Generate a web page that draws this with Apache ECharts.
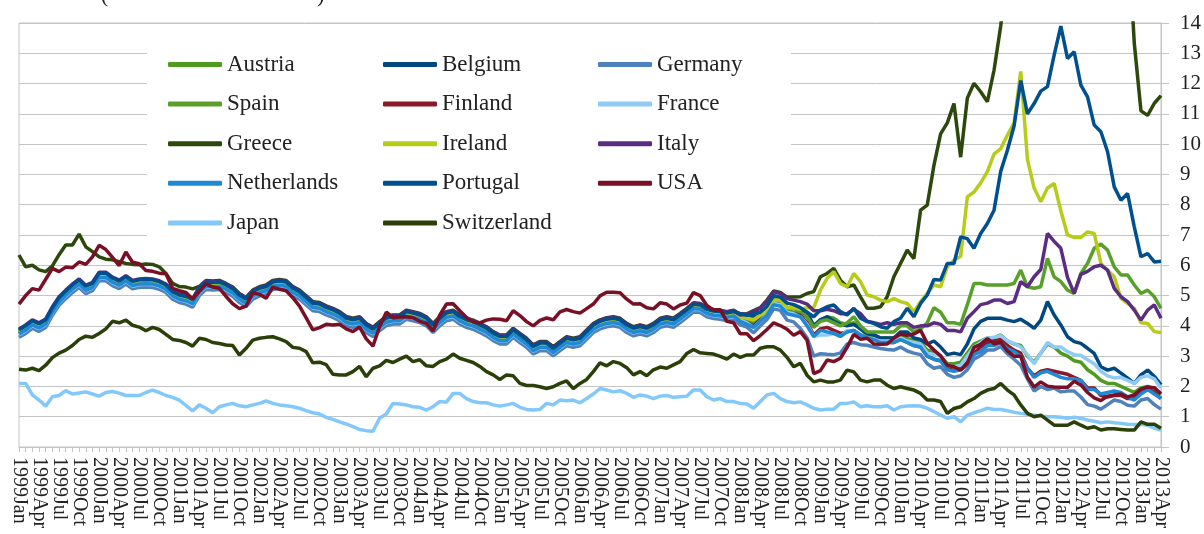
<!DOCTYPE html>
<html><head><meta charset="utf-8">
<script src="https://cdn.jsdelivr.net/npm/echarts@6/dist/echarts.min.js"></script>
<style>html,body{margin:0;padding:0;background:#fff}#c{width:1204px;height:534px}</style>
</head><body><div id="c"></div>
<script>
const years = [1999,2000,2001,2002,2003,2004,2005,2006,2007,2008,2009,2010,2011,2012,2013];
const monthNames = ['Jan','Feb','Mar','Apr','May','Jun','Jul','Aug','Sep','Oct','Nov','Dec'];
const lastYearMonths = 4; // 2013: Jan..Apr
const categories = [];
years.forEach(y => {
  const n = (y === 2013) ? lastYearMonths : 12;
  for (let i = 0; i < n; i++) categories.push(y + monthNames[i]);
});

const austria = [
3.77,3.90,4.07,3.97,4.10,4.50,4.83,5.05,5.25,5.42,5.21,5.31,
5.64,5.64,5.48,5.38,5.53,5.37,5.42,5.43,5.42,5.36,5.25,5.03,
4.92,4.87,4.77,5.15,5.35,5.33,5.35,5.25,5.13,4.92,4.79,5.03,
5.14,5.20,5.35,5.38,5.35,5.15,5.03,4.84,4.65,4.62,4.51,4.43,
4.32,4.16,4.10,4.15,3.93,3.80,3.99,4.16,4.21,4.21,4.37,4.32,
4.26,4.15,3.93,4.15,4.32,4.37,4.21,4.10,4.04,3.93,3.82,3.66,
3.55,3.55,3.77,3.60,3.44,3.22,3.33,3.33,3.16,3.33,3.49,3.44,
3.49,3.71,3.93,4.05,4.12,4.15,4.10,3.93,3.82,3.88,3.82,3.93,
4.10,4.15,4.10,4.26,4.43,4.61,4.59,4.45,4.39,4.37,4.32,4.37,
4.25,4.15,4.05,4.25,4.45,4.75,4.72,4.50,4.45,4.45,4.30,4.00,
4.20,4.30,4.25,4.10,4.05,4.10,3.90,3.70,3.70,3.60,3.60,3.60,
3.70,3.60,3.50,3.45,3.20,3.15,3.00,2.75,2.75,2.80,3.10,3.40,
3.50,3.60,3.60,3.70,3.50,3.40,3.35,3.00,2.80,3.10,3.40,3.30,
3.10,3.00,2.85,2.80,2.55,2.40,2.20,2.10,2.10,2.00,1.90,1.80,
1.95,2.00,1.90,1.75];

const belgium = [
3.84,3.97,4.14,4.04,4.17,4.57,4.90,5.12,5.32,5.49,5.28,5.38,
5.71,5.71,5.55,5.45,5.60,5.44,5.49,5.50,5.49,5.43,5.32,5.10,
4.99,4.94,4.84,5.22,5.42,5.40,5.42,5.32,5.20,4.99,4.86,5.10,
5.21,5.27,5.42,5.45,5.42,5.22,5.10,4.91,4.72,4.69,4.58,4.50,
4.39,4.23,4.17,4.22,4.00,3.87,4.06,4.23,4.28,4.28,4.44,4.39,
4.33,4.22,4.00,4.22,4.39,4.44,4.28,4.17,4.11,4.00,3.89,3.73,
3.62,3.62,3.84,3.67,3.51,3.29,3.40,3.40,3.23,3.40,3.56,3.51,
3.56,3.78,4.00,4.12,4.19,4.22,4.17,4.00,3.89,3.95,3.89,4.00,
4.17,4.22,4.17,4.33,4.50,4.68,4.66,4.52,4.46,4.44,4.39,4.44,
4.40,4.35,4.30,4.40,4.55,4.90,4.85,4.60,4.60,4.55,4.45,4.00,
4.20,4.30,4.15,4.05,4.00,4.05,3.90,3.75,3.70,3.60,3.60,3.60,
3.80,3.80,3.60,3.55,3.40,3.50,3.30,3.05,3.10,3.05,3.40,3.90,
4.15,4.25,4.25,4.25,4.19,4.14,4.22,4.08,3.92,4.19,4.80,4.36,
4.03,3.64,3.48,3.42,3.26,3.09,2.65,2.54,2.60,2.44,2.27,2.10,
2.38,2.54,2.33,2.05];

const germany = [
3.62,3.75,3.92,3.82,3.95,4.35,4.68,4.90,5.10,5.27,5.06,5.16,
5.49,5.49,5.33,5.23,5.38,5.22,5.27,5.28,5.27,5.21,5.10,4.88,
4.77,4.72,4.62,5.00,5.20,5.18,5.20,5.10,4.98,4.77,4.64,4.88,
4.99,5.05,5.20,5.23,5.20,5.00,4.88,4.69,4.50,4.47,4.36,4.28,
4.17,4.01,3.95,4.00,3.78,3.65,3.84,4.01,4.06,4.06,4.22,4.17,
4.11,4.00,3.78,4.00,4.17,4.22,4.06,3.95,3.89,3.78,3.67,3.51,
3.40,3.40,3.62,3.45,3.29,3.07,3.18,3.18,3.01,3.18,3.34,3.29,
3.34,3.56,3.78,3.90,3.97,4.00,3.95,3.78,3.67,3.73,3.67,3.78,
3.95,4.00,3.95,4.11,4.28,4.46,4.44,4.30,4.24,4.22,4.17,4.22,
4.03,3.96,3.77,4.00,4.21,4.56,4.51,4.19,4.13,3.91,3.61,3.00,
3.08,3.06,3.05,3.10,3.40,3.45,3.38,3.36,3.30,3.25,3.22,3.20,
3.30,3.17,3.10,3.05,2.75,2.60,2.65,2.40,2.30,2.35,2.55,2.90,
3.02,3.20,3.20,3.32,3.08,2.90,2.70,2.25,1.85,2.00,1.90,1.95,
1.82,1.85,1.85,1.65,1.40,1.35,1.25,1.40,1.55,1.50,1.38,1.35,
1.55,1.60,1.40,1.25];

const spain = [
3.80,3.93,4.10,4.00,4.13,4.53,4.86,5.08,5.28,5.45,5.24,5.34,
5.67,5.67,5.51,5.41,5.56,5.40,5.45,5.46,5.45,5.39,5.28,5.06,
4.95,4.90,4.80,5.18,5.38,5.36,5.38,5.28,5.16,4.95,4.82,5.06,
5.17,5.23,5.38,5.41,5.38,5.18,5.06,4.87,4.68,4.65,4.54,4.46,
4.35,4.19,4.13,4.18,3.96,3.83,4.02,4.19,4.24,4.24,4.40,4.35,
4.29,4.18,3.96,4.18,4.35,4.40,4.24,4.13,4.07,3.96,3.85,3.69,
3.58,3.58,3.80,3.63,3.47,3.25,3.36,3.36,3.19,3.36,3.52,3.47,
3.52,3.74,3.96,4.08,4.15,4.18,4.13,3.96,3.85,3.91,3.85,3.96,
4.13,4.18,4.13,4.29,4.46,4.64,4.62,4.48,4.42,4.40,4.35,4.40,
4.30,4.25,4.15,4.30,4.45,4.85,4.80,4.60,4.60,4.45,4.30,3.95,
4.15,4.20,4.10,4.00,4.10,4.30,4.00,3.80,3.80,3.80,3.80,3.80,
4.00,4.00,3.80,3.90,4.10,4.60,4.45,4.10,4.10,4.05,4.70,5.40,
5.40,5.35,5.35,5.35,5.35,5.40,5.84,5.29,5.24,5.29,6.23,5.62,
5.46,5.18,5.07,5.73,6.06,6.56,6.70,6.50,5.95,5.68,5.68,5.35,
5.07,5.18,4.96,4.58];

const finland = [
3.75,3.88,4.05,3.95,4.08,4.48,4.81,5.03,5.23,5.40,5.19,5.29,
5.62,5.62,5.46,5.36,5.51,5.35,5.40,5.41,5.40,5.34,5.23,5.01,
4.90,4.85,4.75,5.13,5.33,5.31,5.33,5.23,5.11,4.90,4.77,5.01,
5.12,5.18,5.33,5.36,5.33,5.13,5.01,4.82,4.63,4.60,4.49,4.41,
4.30,4.14,4.08,4.13,3.91,3.78,3.97,4.14,4.19,4.19,4.35,4.30,
4.24,4.13,3.91,4.13,4.30,4.35,4.19,4.08,4.02,3.91,3.80,3.64,
3.53,3.53,3.75,3.58,3.42,3.20,3.31,3.31,3.14,3.31,3.47,3.42,
3.47,3.69,3.91,4.03,4.10,4.13,4.08,3.91,3.80,3.86,3.80,3.91,
4.08,4.13,4.08,4.24,4.41,4.59,4.57,4.43,4.37,4.35,4.30,4.35,
4.20,4.10,4.00,4.20,4.40,4.75,4.70,4.45,4.40,4.35,4.10,3.70,
3.90,3.95,3.85,3.75,3.80,3.85,3.70,3.60,3.55,3.50,3.45,3.45,
3.55,3.45,3.35,3.30,3.00,2.90,2.85,2.60,2.55,2.60,2.80,3.10,
3.30,3.45,3.50,3.55,3.35,3.20,3.10,2.60,2.35,2.50,2.55,2.50,
2.45,2.40,2.30,2.20,1.95,1.95,1.70,1.65,1.70,1.70,1.60,1.60,
1.80,1.90,1.80,1.60];

const france = [
3.71,3.84,4.01,3.91,4.04,4.44,4.77,4.99,5.19,5.36,5.15,5.25,
5.58,5.58,5.42,5.32,5.47,5.31,5.36,5.37,5.36,5.30,5.19,4.97,
4.86,4.81,4.71,5.09,5.29,5.27,5.29,5.19,5.07,4.86,4.73,4.97,
5.08,5.14,5.29,5.32,5.29,5.09,4.97,4.78,4.59,4.56,4.45,4.37,
4.26,4.10,4.04,4.09,3.87,3.74,3.93,4.10,4.15,4.15,4.31,4.26,
4.20,4.09,3.87,4.09,4.26,4.31,4.15,4.04,3.98,3.87,3.76,3.60,
3.49,3.49,3.71,3.54,3.38,3.16,3.27,3.27,3.10,3.27,3.43,3.38,
3.43,3.65,3.87,3.99,4.06,4.09,4.04,3.87,3.76,3.82,3.76,3.87,
4.04,4.09,4.04,4.20,4.37,4.55,4.53,4.39,4.33,4.31,4.26,4.31,
4.20,4.10,3.95,4.15,4.40,4.75,4.70,4.45,4.40,4.30,4.05,3.65,
3.70,3.70,3.75,3.65,3.85,3.85,3.70,3.60,3.55,3.50,3.50,3.50,
3.60,3.50,3.45,3.40,3.10,3.05,3.00,2.70,2.65,2.70,3.00,3.30,
3.45,3.60,3.62,3.68,3.50,3.42,3.30,3.05,2.75,3.10,3.45,3.30,
3.30,3.15,3.05,3.02,2.88,2.75,2.50,2.35,2.28,2.30,2.20,2.10,
2.30,2.35,2.25,1.95];

const greece = [
6.34,5.95,6.00,5.85,5.79,5.98,6.35,6.67,6.67,7.03,6.61,6.45,
6.28,6.20,6.18,6.12,6.06,6.03,6.02,6.04,6.03,5.95,5.73,5.40,
5.30,5.28,5.22,5.30,5.50,5.48,5.50,5.40,5.28,5.07,4.94,5.18,
5.29,5.35,5.50,5.53,5.50,5.30,5.18,4.99,4.80,4.77,4.66,4.58,
4.47,4.31,4.25,4.30,4.08,3.95,4.14,4.31,4.36,4.36,4.52,4.47,
4.41,4.30,4.08,4.30,4.47,4.52,4.36,4.25,4.19,4.08,3.97,3.81,
3.70,3.70,3.92,3.75,3.59,3.37,3.48,3.48,3.31,3.48,3.64,3.59,
3.64,3.86,4.08,4.20,4.27,4.30,4.25,4.08,3.97,4.03,3.97,4.08,
4.25,4.30,4.25,4.41,4.58,4.76,4.74,4.60,4.54,4.52,4.47,4.52,
4.38,4.40,4.50,4.60,4.85,5.15,5.10,4.95,4.95,4.96,5.07,5.13,
5.62,5.73,5.90,5.51,5.29,5.35,4.96,4.58,4.58,4.63,4.96,5.62,
6.06,6.50,6.22,7.82,7.99,9.30,10.34,10.70,11.34,9.57,11.52,12.01,
11.73,11.40,12.44,13.90,15.94,16.69,16.15,15.90,17.78,18.04,17.92,21.14,
25.91,29.24,19.07,21.48,26.90,27.82,25.82,24.34,20.91,17.96,17.20,13.33,
11.10,10.95,11.35,11.60];

const ireland = [
3.78,3.91,4.08,3.98,4.11,4.51,4.84,5.06,5.26,5.43,5.22,5.32,
5.65,5.65,5.49,5.39,5.54,5.38,5.43,5.44,5.43,5.37,5.26,5.04,
4.93,4.88,4.78,5.16,5.36,5.34,5.36,5.26,5.14,4.93,4.80,5.04,
5.15,5.21,5.36,5.39,5.36,5.16,5.04,4.85,4.66,4.63,4.52,4.44,
4.33,4.17,4.11,4.16,3.94,3.81,4.00,4.17,4.22,4.22,4.38,4.33,
4.27,4.16,3.94,4.16,4.33,4.38,4.22,4.11,4.05,3.94,3.83,3.67,
3.56,3.56,3.78,3.61,3.45,3.23,3.34,3.34,3.17,3.34,3.50,3.45,
3.50,3.72,3.94,4.06,4.13,4.16,4.11,3.94,3.83,3.89,3.83,3.94,
4.11,4.16,4.11,4.27,4.44,4.62,4.60,4.46,4.40,4.38,4.33,4.38,
4.30,4.25,4.20,4.35,4.50,4.85,4.85,4.60,4.60,4.55,4.60,4.60,
5.18,5.57,5.79,5.40,5.29,5.73,5.46,5.02,4.96,4.85,4.80,4.90,
4.80,4.74,4.47,4.80,5.07,5.35,5.29,5.95,6.17,6.30,8.26,8.42,
8.72,9.09,9.67,9.85,10.30,10.70,12.40,9.50,8.55,8.10,8.55,8.70,
7.80,7.00,6.92,6.92,7.10,7.05,6.06,5.84,5.62,4.91,4.74,4.58,
4.10,4.08,3.81,3.78];

const italy = [
3.90,4.03,4.20,4.10,4.23,4.63,4.96,5.18,5.38,5.55,5.34,5.44,
5.77,5.77,5.61,5.51,5.66,5.50,5.55,5.56,5.55,5.49,5.38,5.16,
5.05,5.00,4.90,5.28,5.48,5.46,5.48,5.38,5.26,5.05,4.92,5.16,
5.27,5.33,5.48,5.51,5.48,5.28,5.16,4.97,4.78,4.75,4.64,4.56,
4.45,4.29,4.23,4.28,4.06,3.93,4.12,4.29,4.34,4.34,4.50,4.45,
4.39,4.28,4.06,4.28,4.45,4.50,4.34,4.23,4.17,4.06,3.95,3.79,
3.68,3.68,3.90,3.73,3.57,3.35,3.46,3.46,3.29,3.46,3.62,3.57,
3.62,3.84,4.06,4.18,4.25,4.28,4.23,4.06,3.95,4.01,3.95,4.06,
4.23,4.28,4.23,4.39,4.56,4.74,4.72,4.58,4.52,4.50,4.45,4.50,
4.36,4.39,4.47,4.58,4.80,5.13,5.07,4.90,4.85,4.80,4.72,4.50,
4.50,4.55,4.50,4.40,4.40,4.55,4.40,4.15,4.10,4.05,4.10,4.05,
4.10,4.10,3.95,4.00,4.00,4.10,4.05,3.85,3.85,3.80,4.25,4.47,
4.70,4.75,4.85,4.85,4.74,4.80,5.46,5.29,5.62,5.86,7.05,6.79,
6.56,5.60,5.07,5.70,5.80,5.95,6.00,5.84,5.24,4.96,4.80,4.52,
4.19,4.52,4.69,4.25];

const netherlands = [
3.73,3.86,4.03,3.93,4.06,4.46,4.79,5.01,5.21,5.38,5.17,5.27,
5.60,5.60,5.44,5.34,5.49,5.33,5.38,5.39,5.38,5.32,5.21,4.99,
4.88,4.83,4.73,5.11,5.31,5.29,5.31,5.21,5.09,4.88,4.75,4.99,
5.10,5.16,5.31,5.34,5.31,5.11,4.99,4.80,4.61,4.58,4.47,4.39,
4.28,4.12,4.06,4.11,3.89,3.76,3.95,4.12,4.17,4.17,4.33,4.28,
4.22,4.11,3.89,4.11,4.28,4.33,4.17,4.06,4.00,3.89,3.78,3.62,
3.51,3.51,3.73,3.56,3.40,3.18,3.29,3.29,3.12,3.29,3.45,3.40,
3.45,3.67,3.89,4.01,4.08,4.11,4.06,3.89,3.78,3.84,3.78,3.89,
4.06,4.11,4.06,4.22,4.39,4.57,4.55,4.41,4.35,4.33,4.28,4.33,
4.15,4.05,3.95,4.15,4.35,4.70,4.65,4.40,4.35,4.30,4.00,3.65,
3.85,3.80,3.75,3.65,3.80,3.85,3.70,3.60,3.55,3.45,3.45,3.45,
3.55,3.45,3.35,3.30,3.00,2.90,2.85,2.55,2.50,2.55,2.70,3.05,
3.15,3.35,3.35,3.45,3.25,3.15,3.00,2.60,2.30,2.45,2.50,2.40,
2.30,2.25,2.25,2.20,1.90,1.90,1.75,1.80,1.85,1.80,1.65,1.55,
1.75,1.90,1.75,1.60];

const portugal = [
3.87,4.00,4.17,4.07,4.20,4.60,4.93,5.15,5.35,5.52,5.31,5.41,
5.74,5.74,5.58,5.48,5.63,5.47,5.52,5.53,5.52,5.46,5.35,5.13,
5.02,4.97,4.87,5.25,5.45,5.43,5.45,5.35,5.23,5.02,4.89,5.13,
5.24,5.30,5.45,5.48,5.45,5.25,5.13,4.94,4.75,4.72,4.61,4.53,
4.42,4.26,4.20,4.25,4.03,3.90,4.09,4.26,4.31,4.31,4.47,4.42,
4.36,4.25,4.03,4.25,4.42,4.47,4.31,4.20,4.14,4.03,3.92,3.76,
3.65,3.65,3.87,3.70,3.54,3.32,3.43,3.43,3.26,3.43,3.59,3.54,
3.59,3.81,4.03,4.15,4.22,4.25,4.20,4.03,3.92,3.98,3.92,4.03,
4.20,4.25,4.20,4.36,4.53,4.71,4.69,4.55,4.49,4.47,4.42,4.47,
4.40,4.35,4.40,4.45,4.65,5.00,4.95,4.75,4.70,4.60,4.45,4.30,
4.52,4.63,4.69,4.47,4.36,4.58,4.25,4.14,4.08,3.97,3.92,4.14,
4.25,4.58,4.30,4.74,5.02,5.53,5.51,6.06,6.06,6.94,6.88,6.56,
7.05,7.38,7.82,9.10,9.80,10.60,12.10,11.00,11.34,11.75,11.90,12.94,
13.90,12.83,13.05,11.95,11.56,10.63,10.41,9.75,8.59,8.15,8.37,7.27,
6.28,6.39,6.11,6.13];

const usa = [
4.72,5.00,5.23,5.18,5.54,5.90,5.79,5.94,5.92,6.11,6.03,6.28,
6.66,6.52,6.26,5.99,6.44,6.10,6.05,5.83,5.80,5.74,5.72,5.24,
5.16,5.10,4.89,5.14,5.39,5.28,5.24,4.97,4.73,4.57,4.65,5.09,
5.04,4.91,5.28,5.21,5.16,4.93,4.65,4.26,3.87,3.94,4.05,4.03,
4.05,3.90,3.81,3.96,3.57,3.33,3.98,4.45,4.27,4.29,4.30,4.27,
4.15,4.08,3.83,4.35,4.72,4.73,4.50,4.28,4.13,4.10,4.19,4.23,
4.22,4.17,4.50,4.34,4.14,4.00,4.18,4.26,4.20,4.46,4.54,4.47,
4.42,4.57,4.72,4.99,5.11,5.11,5.09,4.88,4.72,4.73,4.60,4.56,
4.76,4.72,4.56,4.69,4.75,5.10,5.00,4.67,4.52,4.53,4.15,4.10,
3.74,3.74,3.51,3.68,3.88,4.10,4.01,3.89,3.69,3.81,3.53,2.42,
2.52,2.87,2.82,2.93,3.29,3.72,3.56,3.59,3.40,3.39,3.40,3.59,
3.73,3.69,3.73,3.85,3.42,3.20,3.01,2.70,2.65,2.54,2.76,3.29,
3.39,3.58,3.41,3.46,3.17,3.00,3.00,2.30,1.98,2.15,2.01,1.98,
1.97,1.97,2.17,2.05,1.80,1.62,1.53,1.68,1.72,1.75,1.65,1.72,
1.91,1.98,1.96,1.76];

const japan = [
2.10,2.10,1.72,1.55,1.35,1.66,1.70,1.86,1.75,1.78,1.82,1.75,
1.68,1.80,1.83,1.78,1.70,1.70,1.70,1.80,1.88,1.80,1.70,1.64,
1.55,1.37,1.19,1.39,1.28,1.13,1.33,1.39,1.44,1.36,1.33,1.39,
1.44,1.52,1.44,1.39,1.36,1.33,1.28,1.20,1.13,1.09,0.98,0.91,
0.83,0.76,0.67,0.58,0.54,0.52,0.95,1.09,1.44,1.42,1.39,1.33,
1.31,1.22,1.33,1.50,1.48,1.77,1.77,1.60,1.50,1.46,1.46,1.39,
1.35,1.39,1.44,1.31,1.24,1.22,1.24,1.44,1.39,1.55,1.53,1.55,
1.46,1.60,1.75,1.93,1.88,1.82,1.86,1.77,1.64,1.72,1.68,1.60,
1.68,1.70,1.64,1.66,1.68,1.88,1.88,1.66,1.55,1.60,1.50,1.50,
1.44,1.42,1.28,1.50,1.72,1.77,1.60,1.50,1.46,1.49,1.39,1.28,
1.22,1.25,1.25,1.44,1.44,1.49,1.33,1.36,1.33,1.33,1.36,1.22,
1.33,1.35,1.36,1.35,1.28,1.17,1.05,0.95,1.00,0.83,1.05,1.13,
1.20,1.28,1.24,1.24,1.20,1.15,1.11,1.08,1.05,1.02,1.00,1.00,
0.98,0.95,0.98,0.95,0.89,0.85,0.80,0.83,0.80,0.78,0.75,0.74,
0.75,0.72,0.62,0.56];

const switzerland = [
2.57,2.54,2.60,2.52,2.70,2.95,3.10,3.20,3.35,3.55,3.66,3.62,
3.75,3.90,4.15,4.10,4.19,4.02,3.96,3.84,3.95,3.88,3.72,3.55,
3.52,3.45,3.33,3.59,3.55,3.45,3.42,3.37,3.35,3.04,3.26,3.53,
3.59,3.62,3.64,3.57,3.48,3.29,3.26,3.15,2.78,2.80,2.72,2.40,
2.38,2.38,2.49,2.66,2.32,2.60,2.68,2.86,2.79,2.90,3.00,2.82,
2.88,2.68,2.66,2.82,2.90,3.07,2.93,2.86,2.79,2.66,2.49,2.38,
2.23,2.38,2.35,2.10,2.03,2.03,1.99,1.93,1.99,2.10,2.18,1.93,
2.10,2.23,2.49,2.78,2.68,2.82,2.76,2.62,2.38,2.49,2.35,2.55,
2.64,2.60,2.71,2.82,3.09,3.22,3.11,3.09,3.07,2.99,2.90,3.07,
2.96,3.04,3.04,3.26,3.31,3.31,3.20,2.96,2.65,2.76,2.37,2.15,
2.21,2.15,2.15,2.21,2.54,2.48,2.21,2.15,2.21,2.21,2.04,1.93,
1.99,1.93,1.88,1.77,1.55,1.55,1.50,1.11,1.27,1.33,1.49,1.60,
1.77,1.88,1.93,2.10,1.88,1.72,1.39,1.11,1.00,1.05,0.89,0.72,
0.72,0.72,0.83,0.72,0.62,0.67,0.56,0.60,0.60,0.58,0.56,0.56,
0.83,0.75,0.75,0.62];

const seriesDefs = [
  ['Austria', austria, '#4f9b22'],
  ['Belgium', belgium, '#00487f'],
  ['Germany', germany, '#4f81bd'],
  ['Spain', spain, '#58a02a'],
  ['Finland', finland, '#8a1a2a'],
  ['France', france, '#8fcbf5'],
  ['Greece', greece, '#2c480c'],
  ['Ireland', ireland, '#b7cc1a'],
  ['Italy', italy, '#5a2c82'],
  ['Netherlands', netherlands, '#1e8ad6'],
  ['Portugal', portugal, '#004f8e'],
  ['USA', usa, '#7a1026'],
  ['Japan', japan, '#82c8fa'],
  ['Switzerland', switzerland, '#2a4008']
];

const legendCols = [
  ['Austria','Spain','Greece','Netherlands','Japan'],
  ['Belgium','Finland','Ireland','Portugal','Switzerland'],
  ['Germany','France','Italy','USA']
];
const legendLeft = [168, 383, 598];

const font = 'Liberation Serif';
const chart = echarts.init(document.getElementById('c'));
chart.setOption({
  animation: false,
  backgroundColor: '#ffffff',
  color: seriesDefs.map(d => d[2]),
  grid: { left: 19, right: 42, top: 23, bottom: 87, show: true, borderColor: '#c4c4c4', borderWidth: 1 },
  graphic: [
    { type: 'rect', z: 3, shape: { x: 147, y: 28, width: 644, height: 210 }, style: { fill: '#ffffff' } },
    { type: 'text', z: 5, style: { text: '(', x: 101, y: 7, verticalAlign: 'bottom', font: '22px "Liberation Serif"', fill: '#222' } },
    { type: 'text', z: 5, style: { text: ')', x: 317, y: 7, verticalAlign: 'bottom', font: '22px "Liberation Serif"', fill: '#222' } }
  ],
  legend: legendCols.map((col, i) => ({
    data: col,
    orient: 'vertical',
    left: legendLeft[i],
    top: 53,
    padding: 0,
    itemWidth: 54,
    itemHeight: 5,
    itemGap: 16.6,
    icon: 'roundRect',
    selectedMode: false,
    textStyle: { fontFamily: font, fontSize: 23, lineHeight: 22, color: '#222' }
  })),
  xAxis: {
    type: 'category',
    data: categories,
    boundaryGap: false,
    axisLine: { lineStyle: { color: '#c4c4c4', width: 1 } },
    axisTick: { interval: 0, length: 5, lineStyle: { color: '#c4c4c4' } },
    axisLabel: { interval: 2, rotate: -90, margin: 10, fontFamily: font, fontSize: 20, color: '#222', showMinLabel: true, showMaxLabel: true, hideOverlap: false },
    splitLine: { show: false }
  },
  yAxis: {
    type: 'value',
    position: 'right',
    min: 0, max: 14, interval: 1,
    axisLine: { show: true, lineStyle: { color: '#c4c4c4', width: 1 } },
    axisTick: { show: true, length: 8, lineStyle: { color: '#c4c4c4' } },
    axisLabel: { margin: 19, fontFamily: font, fontSize: 21, color: '#222' },
    splitLine: { lineStyle: { color: '#c4c4c4', width: 1 } }
  },
  series: seriesDefs.map(d => ({
    name: d[0],
    type: 'line',
    data: d[1],
    symbol: 'none',
    clip: true,
    lineStyle: { width: 3.5, color: d[2] },
    itemStyle: { color: d[2] }
  }))
});
</script></body></html>
